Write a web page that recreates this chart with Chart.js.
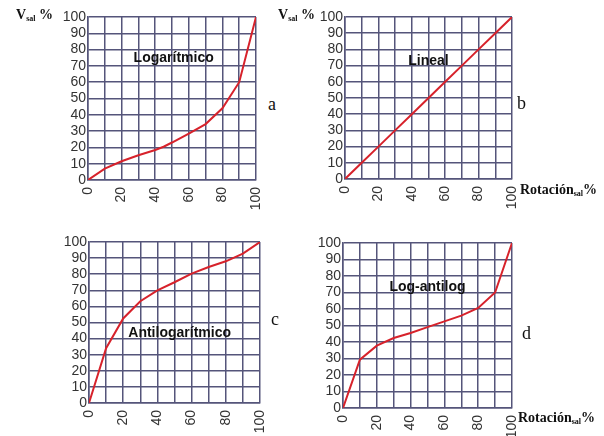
<!DOCTYPE html>
<html>
<head>
<meta charset="utf-8">
<script src="https://cdn.jsdelivr.net/npm/chart.js@4"></script>
<style>
  html, body { margin: 0; padding: 0; background: #fff; }
  #wrap { position: relative; width: 604px; height: 436px; overflow: hidden; }
  .panel { position: absolute; }
  .lbl { position: absolute; font-family: "Liberation Serif", "DejaVu Serif", serif; color: #111; white-space: nowrap; }
  .axis { font-weight: bold; font-size: 14px; }
  .axis sub { font-size: 8px; vertical-align: -2px; }
  .tag { font-size: 18px; }
</style>
</head>
<body>
<div id="wrap">
  <canvas id="chA" class="panel"></canvas>
  <canvas id="chB" class="panel"></canvas>
  <canvas id="chC" class="panel"></canvas>
  <canvas id="chD" class="panel"></canvas>

  <div class="lbl axis" style="left:16px;top:7px;">V<sub>sal</sub> %</div>
  <div class="lbl axis" style="left:278px;top:7px;">V<sub>sal</sub> %</div>
  <div class="lbl axis" style="left:520px;top:182px;">Rotación<sub>sal</sub>%</div>
  <div class="lbl axis" style="left:518px;top:410px;">Rotación<sub>sal</sub>%</div>

  <div class="lbl tag" style="left:268px;top:94px;">a</div>
  <div class="lbl tag" style="left:517px;top:93px;">b</div>
  <div class="lbl tag" style="left:271px;top:309px;">c</div>
  <div class="lbl tag" style="left:522px;top:323px;">d</div>
</div>
<script>
// Rotación de salida (%) — eje x
const rotLog = [0, 10, 20, 30, 40, 45, 50, 60, 70, 80, 90, 100];
const rotStd = [0, 10, 20, 30, 40, 50, 60, 70, 80, 90, 100];

// Apertura de salida V_sal (%) — eje y
const vLogaritmico = [0, 7, 11.5, 15.2, 18.4, 20.4, 23, 28.5, 34.3, 44, 60, 100];
const vLineal = [0, 10, 20, 30, 40, 50, 60, 70, 80, 90, 100];
const vAntilog = [0, 34, 52.5, 63.2, 70, 75, 80.4, 84.5, 88, 92.8, 100];
const vLogAntilog = [0, 29.3, 37.8, 42.4, 45.5, 49, 52.5, 56, 60.6, 70, 100];

const yTicks = [0, 10, 20, 30, 40, 50, 60, 70, 80, 90, 100];
const xTickLabels = ['0', '20', '40', '60', '80', '100'];

// panel: [canvas id, x values, y values, title, title x, title y, chart area l,t,r,b]
const panels = [
  ['chA', rotLog, vLogaritmico, 'Logarítmico', 51, 75, [88, 17, 256, 180]],
  ['chB', rotStd, vLineal, 'Lineal', 50, 73, [345, 17, 512, 179]],
  ['chC', rotStd, vAntilog, 'Antilogarítmico', 53, 43.5, [89, 242, 260, 403]],
  ['chD', rotStd, vLogAntilog, 'Log-antilog', 50, 73, [343, 243, 512, 408]]
];

const GRID = '#55557a';
const YW = 40, PT = 12, PR = 12, XH = 40;
const TICK_FONT = { family: '"Liberation Sans", Arial, sans-serif', size: 14 };

const titlePlugin = {
  id: 'panelTitle',
  afterDatasetsDraw(chart, args, opts) {
    const ctx = chart.ctx;
    const x = chart.scales.x.getPixelForValue(opts.x);
    const y = chart.scales.y.getPixelForValue(opts.y);
    ctx.save();
    ctx.font = 'bold 14px "Liberation Sans", Arial, sans-serif';
    ctx.textAlign = 'center';
    ctx.textBaseline = 'middle';
    ctx.fillStyle = '#111';
    ctx.fillText(opts.text, x, y);
    ctx.restore();
  }
};

function makePanel(p) {
  const [id, xs, ys, title, tx, ty, area] = p;
  const [l, t, r, b] = area;
  const cv = document.getElementById(id);
  const w = (r - l) + YW + PR;
  const h = (b - t) + PT + XH;
  cv.style.left = (l - YW) + 'px';
  cv.style.top = (t - PT) + 'px';
  cv.style.width = w + 'px';
  cv.style.height = h + 'px';
  cv.width = w;
  cv.height = h;

  new Chart(cv, {
    type: 'line',
    data: {
      datasets: [{
        data: xs.map((x, i) => ({ x: x, y: ys[i] })),
        borderColor: '#d7222b',
        borderWidth: 2,
        pointRadius: 0,
        tension: 0,
        fill: false
      }]
    },
    options: {
      responsive: false,
      animation: false,
      devicePixelRatio: 1,
      layout: { padding: { top: PT, right: PR, left: 0, bottom: 0 } },
      plugins: {
        legend: { display: false },
        tooltip: { enabled: false },
        panelTitle: { text: title, x: tx, y: ty }
      },
      scales: {
        x: {
          type: 'linear', min: 0, max: 100,
          afterFit: s => { s.height = XH; s.paddingLeft = 0; s.paddingRight = 0; },
          grid: { color: GRID, lineWidth: 1.5, drawTicks: false },
          border: { color: GRID, width: 1.5 },
          ticks: {
            stepSize: 10, autoSkip: false, padding: 7, minRotation: 90, maxRotation: 90,
            color: '#333', font: TICK_FONT,
            callback: v => xTickLabels.includes(String(v)) ? String(v) : ''
          }
        },
        y: {
          type: 'linear', min: 0, max: 100,
          afterFit: s => { s.width = YW; s.paddingTop = 0; s.paddingBottom = 0; },
          grid: { color: GRID, lineWidth: 1.5, drawTicks: false },
          border: { color: GRID, width: 1.5 },
          ticks: {
            stepSize: 10, autoSkip: false, padding: 2,
            color: '#333', font: TICK_FONT,
            callback: v => yTicks.includes(v) ? String(v) : ''
          }
        }
      }
    },
    plugins: [titlePlugin]
  });
}

panels.forEach(makePanel);
</script>
</body>
</html>
